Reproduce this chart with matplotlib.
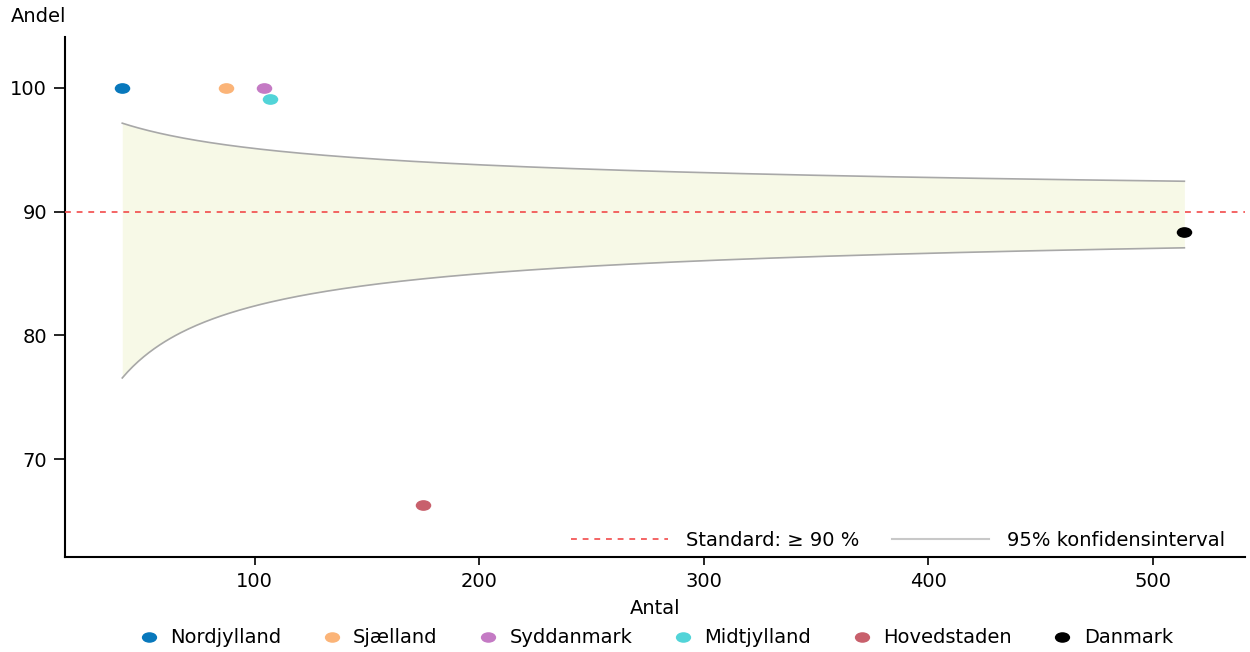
import math

import numpy as np
import matplotlib
matplotlib.use("Agg")
import matplotlib.pyplot as plt
from matplotlib.path import Path
from matplotlib.lines import Line2D

plt.rcParams["font.family"] = ["DejaVu Sans"]

# regions: number of patients (antal) and share meeting the indicator (andel, %)
regions = ["Nordjylland", "Sjælland", "Syddanmark", "Midtjylland", "Hovedstaden", "Danmark"]
antal = [41, 87, 104, 107, 175, 514]
andel = [100.0, 100.0, 100.0, 99.07, 66.29, 88.33]
colors = ["#0878BC", "#FBB478", "#C47AC4", "#52D4D8", "#C8606C", "#000000"]

standard = 90.0
n_min, n_max = 41, 514


def _betacf(a, b, x):
    tiny = 1e-30
    qab, qap, qam = a + b, a + 1.0, a - 1.0
    c, d = 1.0, 1.0 - qab * x / qap
    d = 1.0 / (d if abs(d) > tiny else tiny)
    h = d
    for m in range(1, 300):
        m2 = 2 * m
        aa = m * (b - m) * x / ((qam + m2) * (a + m2))
        d = 1.0 + aa * d
        d = 1.0 / (d if abs(d) > tiny else tiny)
        c = 1.0 + aa / c
        c = c if abs(c) > tiny else tiny
        h *= d * c
        aa = -(a + m) * (qab + m) * x / ((a + m2) * (qap + m2))
        d = 1.0 + aa * d
        d = 1.0 / (d if abs(d) > tiny else tiny)
        c = 1.0 + aa / c
        c = c if abs(c) > tiny else tiny
        de = d * c
        h *= de
        if abs(de - 1.0) < 1e-12:
            break
    return h


def betainc(a, b, x):
    if x <= 0.0:
        return 0.0
    if x >= 1.0:
        return 1.0
    bt = math.exp(math.lgamma(a + b) - math.lgamma(a) - math.lgamma(b)
                  + a * math.log(x) + b * math.log(1.0 - x))
    if x < (a + 1.0) / (a + b + 2.0):
        return bt * _betacf(a, b, x) / a
    return 1.0 - bt * _betacf(b, a, 1.0 - x) / b


def betaq(q, a, b):
    lo, hi = 0.0, 1.0
    for _ in range(80):
        mid = 0.5 * (lo + hi)
        if betainc(a, b, mid) < q:
            lo = mid
        else:
            hi = mid
    return 0.5 * (lo + hi)


# exact (Clopper-Pearson) 95% limits around the standard
n = np.linspace(n_min, n_max, 400)
p0 = standard / 100
lower = np.array([betaq(0.025, p0 * k, k - p0 * k + 1) for k in n]) * 100
upper = np.array([betaq(0.975, p0 * k + 1, k - p0 * k) for k in n]) * 100

FS = 14
fig = plt.figure(figsize=(12.5, 6.52), dpi=100)
ax = fig.add_axes([0.052, 0.146, 0.944, 0.797])

ax.fill_between(n, lower, upper, color="#F7F9E7", lw=0, zorder=1)
ax.plot(n, upper, color="#A8A8A8", lw=1.2, zorder=2)
ax.plot(n, lower, color="#A8A8A8", lw=1.2, zorder=2)
ax.axhline(standard, color="#F24A4A", lw=1.2, dashes=(3.5, 3.5), zorder=3)

# slightly wide ellipse markers
circ = Path.unit_circle()
ell = Path(circ.vertices * np.array([1.45, 1.0]), circ.codes)
for name, x, y, c in zip(regions, antal, andel, colors):
    ax.scatter(x, y, s=125, marker=ell, color=c, lw=0, zorder=4, label=name)

ax.set_xlim(15.5, 541)
ax.set_ylim(62.1, 104.1)
ax.set_xticks([100, 200, 300, 400, 500])
ax.set_yticks([70, 80, 90, 100])
for s in ["top", "right"]:
    ax.spines[s].set_visible(False)
for s in ["left", "bottom"]:
    ax.spines[s].set_linewidth(1.5)
ax.tick_params(labelsize=FS, width=1.2)
ax.tick_params(axis="x", length=6, pad=5)
ax.tick_params(axis="y", length=8, pad=5)

ax.set_xlabel("Antal", fontsize=FS, labelpad=6)
fig.text(0.009, 0.974, "Andel", fontsize=FS, ha="left", va="center")

inner = [Line2D([], [], color="#F24A4A", lw=1.2, dashes=(3.5, 3.5)),
         Line2D([], [], color="#C8C8C8", lw=1.5)]
ax.legend(inner, ["Standard: ≥ 90 %", "95% konfidensinterval"], loc="center right",
          ncol=2, frameon=False, fontsize=FS, handlelength=5.0, handletextpad=0.9,
          columnspacing=1.7, bbox_to_anchor=(0.983, 0.031), borderaxespad=0, borderpad=0)

handles = [Line2D([], [], ls="", marker=ell, ms=11, color=c, mec="none") for c in colors]
fig.legend(handles, regions, loc="center", bbox_to_anchor=(0.524, 0.0215), ncol=6,
           frameon=False, fontsize=FS, handletextpad=0.5, columnspacing=2.0,
           handlelength=1.2, borderpad=0)

fig.savefig("out.png", dpi=100)
